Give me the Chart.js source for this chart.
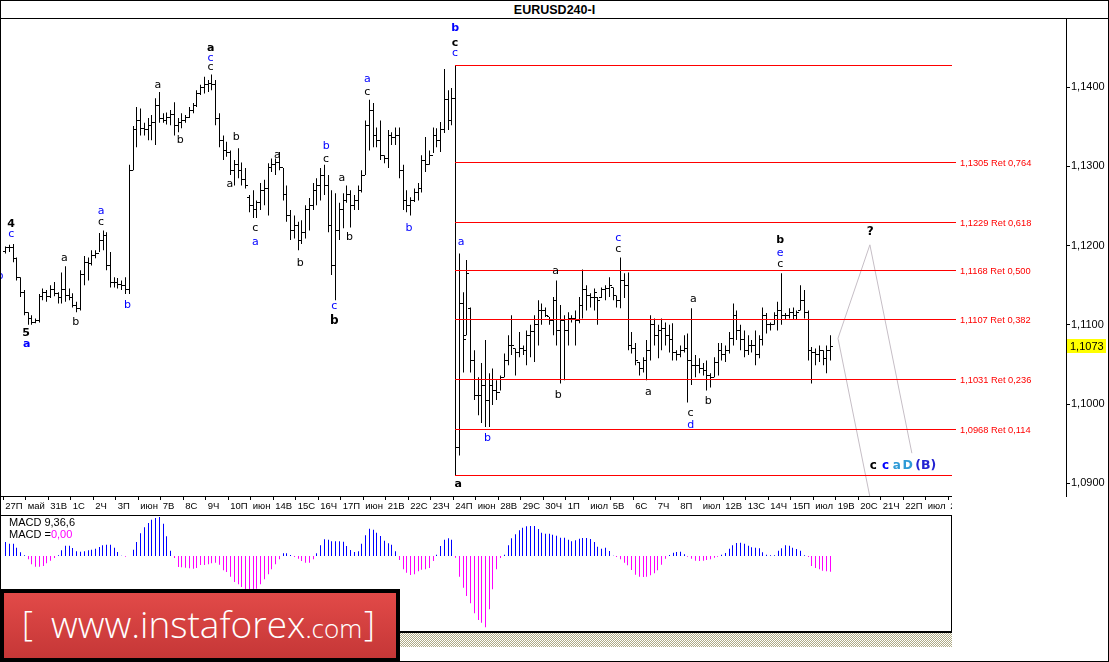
<!DOCTYPE html>
<html><head><meta charset="utf-8">
<script src="https://cdn.jsdelivr.net/npm/chart.js"></script>
<style>
*{box-sizing:border-box}
html,body{margin:0;padding:0;background:#fff;overflow:hidden}
#wrap{position:relative;width:1109px;height:662px;background:#fff;overflow:hidden}
canvas{position:absolute;display:block}
.ln{position:absolute;background:#000;z-index:5}
#frame{position:absolute;left:0;top:0;width:1109px;height:662px;border:1px solid #000;z-index:20;pointer-events:none}
#title{position:absolute;left:0;top:3px;width:1109px;text-align:center;font:bold 12.5px "Liberation Sans",Arial,sans-serif;line-height:14px;color:#000;z-index:6}
#cover{position:absolute;left:952px;top:497px;width:113px;height:18px;background:#fff;z-index:4}
#macdTxt{position:absolute;left:9px;top:516px;font:11px "Liberation Sans",Arial,sans-serif;line-height:12px;color:#000;white-space:pre;z-index:6}
#macdTxt span{color:#FF00FF}
#hatch{position:absolute;left:1px;top:633px;width:951px;height:14px;background:repeating-conic-gradient(#b0ab86 0 25%,#ffffff 0 50%) 0 0/2px 2px;z-index:5}
#logo{position:absolute;left:0;top:589px;width:400px;height:73px;background:#000;z-index:10;overflow:hidden}
#logoIn{position:absolute;left:4px;top:4px;width:392px;height:65px;background:linear-gradient(#e24a48,#c53737)}
.lt{position:absolute;color:#fff;font-family:"Open Sans","DejaVu Sans",sans-serif;font-weight:300;white-space:nowrap}
</style></head>
<body><div id="wrap">
<div id="title">EURUSD240-I</div>
<div class="ln" style="left:0;top:18px;width:1109px;height:1px"></div>
<canvas id="mainCv" width="1109" height="496" style="left:0;top:19px;width:1109px;height:496px"></canvas>
<div id="cover"></div>
<div class="ln" style="left:0;top:496px;width:952px;height:1px"></div>
<div class="ln" style="left:0;top:515px;width:952px;height:1px"></div>
<canvas id="macdCv" width="952" height="116" style="left:0;top:516px;width:952px;height:116px"></canvas>
<div class="ln" style="left:951px;top:515px;width:1px;height:118px"></div>
<div class="ln" style="left:0;top:631px;width:952px;height:2px"></div>
<div id="hatch"></div>
<div id="macdTxt">MACD 9,36,6
MACD =<span>0,00</span></div>
<div id="logo"><div id="logoIn"></div>
  <div class="lt" style="left:22px;top:17px;font-size:34px;line-height:34px">[</div>
  <div class="lt" style="left:51px;top:16px;font-size:37px;line-height:37px">www.instaforex<span style="font-size:26px">.com</span></div>
  <div class="lt" style="left:364px;top:17px;font-size:34px;line-height:34px">]</div>
</div>
<div id="frame"></div>
</div>
<script>
// ---------- DATA ----------
const tickLabels = ['27П','май','31В','1С','2Ч','3П','июн','7В','8С','9Ч','10П','июн','14В','15С','16Ч','17П','июн','21В','22С','23Ч','24П','июн','28В','29С','30Ч','1П','июл','5В','6С','7Ч','8П','июл','12В','13С','14Ч','15П','июл','19В','20С','21Ч','22П','июл','26В'];
const priceTicks = [1.09,1.10,1.11,1.12,1.13,1.14];

const high = [1.1199,1.1201,1.1202,1.1185,1.1160,1.1144,1.1116,1.1112,1.1108,1.1139,
1.1146,1.1144,1.1150,1.1154,1.1141,1.1166,1.1174,1.1146,1.1140,1.1129,
1.1169,1.1187,1.1185,1.1194,1.1194,1.1216,1.1219,1.1217,1.1192,1.1160,
1.1159,1.1156,1.1160,1.1302,1.1351,1.1375,1.1373,1.1355,1.1361,1.1365,
1.1386,1.1394,1.1367,1.1368,1.1371,1.1381,1.1361,1.1367,1.1365,1.1375,
1.1380,1.1396,1.1403,1.1413,1.1409,1.1416,1.1409,1.1367,1.1339,1.1331,
1.1320,1.1308,1.1323,1.1305,1.1298,1.1264,1.1270,1.1257,1.1279,1.1283,
1.1304,1.1310,1.1310,1.1318,1.1298,1.1276,1.1245,1.1238,1.1230,1.1232,
1.1251,1.1260,1.1279,1.1285,1.1298,1.1302,1.1289,1.1270,1.1266,1.1254,
1.1266,1.1276,1.1270,1.1264,1.1276,1.1295,1.1358,1.1384,1.1380,1.1349,
1.1358,1.1314,1.1346,1.1343,1.1349,1.1349,1.1302,1.1270,1.1261,1.1272,
1.1279,1.1314,1.1337,1.1320,1.1349,1.1348,1.1356,1.1423,1.1396,1.1399,
1.1427,1.1190,1.1141,1.1182,1.1122,1.1068,1.1034,1.1052,1.1081,1.1039,
1.1045,1.1030,1.1036,1.1064,1.1087,1.1112,1.1070,1.1091,1.1074,1.1093,
1.1100,1.1112,1.1131,1.1127,1.1122,1.1110,1.1135,1.1156,1.1125,1.1112,
1.1116,1.1112,1.1118,1.1135,1.1170,1.1150,1.1140,1.1146,1.1135,1.1147,
1.1150,1.1160,1.1147,1.1137,1.1185,1.1165,1.1166,1.1091,1.1077,1.1053,
1.1059,1.1081,1.1112,1.1108,1.1100,1.1108,1.1103,1.1100,1.1102,1.1068,
1.1074,1.1087,1.1089,1.1121,1.1062,1.1058,1.1052,1.1055,1.1039,1.1059,
1.1077,1.1077,1.1074,1.1091,1.1127,1.1118,1.1100,1.1093,1.1087,1.1081,
1.1093,1.1087,1.1122,1.1115,1.1103,1.1116,1.1129,1.1165,1.1115,1.1121,
1.1122,1.1118,1.1150,1.1144,1.1118,1.1072,1.1070,1.1074,1.1068,1.1074,
1.1087];

const low = [1.1190,1.1192,1.1179,1.1156,1.1135,1.1112,1.1100,1.1100,1.1102,1.1103,
1.1131,1.1129,1.1134,1.1136,1.1127,1.1127,1.1129,1.1131,1.1122,1.1116,
1.1118,1.1150,1.1156,1.1175,1.1184,1.1192,1.1194,1.1169,1.1147,1.1147,
1.1146,1.1144,1.1139,1.1139,1.1295,1.1324,1.1339,1.1339,1.1333,1.1333,
1.1327,1.1355,1.1355,1.1353,1.1352,1.1339,1.1343,1.1348,1.1355,1.1361,
1.1367,1.1375,1.1390,1.1392,1.1394,1.1396,1.1352,1.1324,1.1308,1.1312,
1.1289,1.1276,1.1285,1.1276,1.1272,1.1242,1.1235,1.1235,1.1245,1.1251,
1.1238,1.1293,1.1289,1.1295,1.1257,1.1230,1.1207,1.1209,1.1194,1.1202,
1.1209,1.1219,1.1245,1.1251,1.1257,1.1264,1.1217,1.1163,1.1131,1.1207,
1.1222,1.1254,1.1223,1.1245,1.1245,1.1267,1.1289,1.1320,1.1324,1.1324,
1.1308,1.1304,1.1298,1.1327,1.1327,1.1285,1.1245,1.1242,1.1238,1.1255,
1.1257,1.1267,1.1293,1.1302,1.1317,1.1324,1.1318,1.1342,1.1346,1.1352,
1.0910,1.0935,1.1040,1.1087,1.1040,1.1005,1.0986,1.0976,1.0971,1.0971,
1.0999,1.1005,1.1017,1.1034,1.1049,1.1062,1.1036,1.1059,1.1062,1.1049,
1.1059,1.1053,1.1074,1.1100,1.1110,1.1100,1.1087,1.1074,1.1026,1.1030,
1.1074,1.1103,1.1074,1.1102,1.1108,1.1118,1.1122,1.1118,1.1100,1.1134,
1.1131,1.1135,1.1131,1.1122,1.1121,1.1134,1.1068,1.1064,1.1049,1.1036,
1.1040,1.1030,1.1055,1.1074,1.1058,1.1068,1.1074,1.1065,1.1055,1.1055,
1.1059,1.1065,1.1002,1.1024,1.1034,1.1039,1.1036,1.1017,1.1021,1.1034,
1.1036,1.1055,1.1053,1.1064,1.1074,1.1081,1.1068,1.1059,1.1062,1.1065,
1.1049,1.1058,1.1074,1.1089,1.1093,1.1100,1.1093,1.1100,1.1106,1.1108,
1.1106,1.1106,1.1118,1.1108,1.1055,1.1026,1.1049,1.1053,1.1049,1.1039,
1.1055];

const open = [1.1193,1.1197,1.1198,1.1184,1.1160,1.1141,1.1116,1.1108,1.1103,1.1106,
1.1136,1.1141,1.1136,1.1144,1.1139,1.1135,1.1144,1.1137,1.1135,1.1125,
1.1121,1.1163,1.1179,1.1178,1.1188,1.1190,1.1207,1.1213,1.1175,1.1153,
1.1154,1.1151,1.1150,1.1144,1.1295,1.1346,1.1358,1.1348,1.1346,1.1352,
1.1356,1.1377,1.1361,1.1358,1.1362,1.1365,1.1352,1.1356,1.1358,1.1362,
1.1371,1.1377,1.1392,1.1399,1.1403,1.1404,1.1403,1.1361,1.1333,1.1320,
1.1318,1.1295,1.1302,1.1295,1.1283,1.1261,1.1251,1.1245,1.1254,1.1270,
1.1272,1.1298,1.1302,1.1305,1.1298,1.1264,1.1238,1.1219,1.1226,1.1207,
1.1217,1.1245,1.1251,1.1270,1.1276,1.1289,1.1276,1.1226,1.1175,1.1219,
1.1245,1.1257,1.1264,1.1251,1.1257,1.1270,1.1289,1.1352,1.1371,1.1339,
1.1333,1.1314,1.1310,1.1339,1.1336,1.1339,1.1295,1.1257,1.1251,1.1257,
1.1267,1.1272,1.1308,1.1302,1.1314,1.1339,1.1333,1.1346,1.1384,1.1358,
1.1386,1.0945,1.1127,1.1087,1.1121,1.1055,1.1011,1.1011,1.1024,1.1005,
1.1024,1.1017,1.1015,1.1034,1.1055,1.1074,1.1070,1.1065,1.1070,1.1068,
1.1087,1.1091,1.1100,1.1118,1.1118,1.1110,1.1106,1.1131,1.1093,1.1106,
1.1093,1.1108,1.1108,1.1106,1.1125,1.1144,1.1137,1.1134,1.1135,1.1134,
1.1144,1.1146,1.1147,1.1137,1.1131,1.1156,1.1150,1.1074,1.1070,1.1053,
1.1045,1.1055,1.1068,1.1100,1.1087,1.1093,1.1096,1.1087,1.1081,1.1065,
1.1062,1.1068,1.1070,1.1055,1.1049,1.1049,1.1045,1.1043,1.1036,1.1034,
1.1053,1.1068,1.1062,1.1068,1.1083,1.1112,1.1093,1.1081,1.1068,1.1074,
1.1074,1.1062,1.1081,1.1112,1.1100,1.1100,1.1112,1.1118,1.1112,1.1112,
1.1116,1.1112,1.1118,1.1131,1.1116,1.1068,1.1065,1.1062,1.1068,1.1058,
1.1068];

const close = [1.1197,1.1198,1.1184,1.1160,1.1141,1.1116,1.1108,1.1103,1.1106,1.1136,
1.1141,1.1136,1.1144,1.1139,1.1135,1.1144,1.1137,1.1135,1.1125,1.1121,
1.1163,1.1179,1.1178,1.1188,1.1190,1.1207,1.1213,1.1175,1.1153,1.1154,
1.1151,1.1150,1.1144,1.1295,1.1346,1.1358,1.1348,1.1346,1.1352,1.1356,
1.1377,1.1361,1.1358,1.1362,1.1365,1.1352,1.1356,1.1358,1.1362,1.1371,
1.1377,1.1392,1.1399,1.1403,1.1404,1.1403,1.1361,1.1333,1.1320,1.1318,
1.1295,1.1302,1.1295,1.1283,1.1276,1.1251,1.1245,1.1254,1.1270,1.1272,
1.1298,1.1302,1.1305,1.1298,1.1264,1.1238,1.1219,1.1226,1.1207,1.1217,
1.1245,1.1251,1.1270,1.1276,1.1289,1.1276,1.1226,1.1175,1.1219,1.1245,
1.1257,1.1264,1.1251,1.1257,1.1270,1.1289,1.1352,1.1371,1.1339,1.1333,
1.1314,1.1310,1.1339,1.1336,1.1339,1.1295,1.1257,1.1251,1.1257,1.1267,
1.1272,1.1308,1.1302,1.1314,1.1339,1.1333,1.1346,1.1384,1.1358,1.1386,
1.0945,1.1127,1.1081,1.1165,1.1055,1.1011,1.1011,1.1024,1.1005,1.1024,
1.1017,1.1015,1.1033,1.1055,1.1074,1.1074,1.1065,1.1070,1.1068,1.1087,
1.1091,1.1100,1.1118,1.1118,1.1112,1.1106,1.1131,1.1093,1.1106,1.1093,
1.1108,1.1108,1.1106,1.1125,1.1144,1.1137,1.1134,1.1141,1.1131,1.1144,
1.1146,1.1150,1.1137,1.1131,1.1156,1.1150,1.1074,1.1070,1.1055,1.1045,
1.1055,1.1068,1.1100,1.1087,1.1093,1.1096,1.1087,1.1081,1.1065,1.1062,
1.1068,1.1070,1.1055,1.1049,1.1049,1.1045,1.1043,1.1036,1.1033,1.1053,
1.1068,1.1062,1.1068,1.1083,1.1112,1.1093,1.1081,1.1068,1.1074,1.1074,
1.1062,1.1081,1.1112,1.1100,1.1100,1.1112,1.1118,1.1112,1.1112,1.1116,
1.1112,1.1116,1.1131,1.1116,1.1068,1.1065,1.1062,1.1068,1.1058,1.1068,
1.1073];

// MACD(9,36,6) histogram, one value per bar (arbitrary units)
const macdHist = [42,37,37,25,11,2,-10,-25,-32,-32,
-30,-22,-14,-6,2,17,31,31,24,14,
13,14,17,19,22,27,32,34,34,25,
12,1,-2,0,19,42,68,86,99,109,
114,117,97,59,16,-6,-33,-34,-35,-37,
-38,-36,-27,-27,-25,-22,-20,-26,-43,-48,
-62,-78,-85,-93,-100,-105,-105,-98,-85,-70,
-55,-40,-25,-10,8,8,3,-3,-8,-15,
-20,-20,-10,8,32,50,49,44,44,44,
43,30,18,12,14,37,62,82,79,70,
60,46,38,34,14,-12,-40,-50,-57,-55,
-46,-41,-40,-36,-15,4,30,49,53,49,
-5,-62,-95,-120,-142,-172,-192,-200,-214,-160,
-100,-40,-6,4,32,53,65,77,85,89,
90,90,81,70,67,67,64,61,55,55,
49,44,47,52,54,54,51,42,28,22,
25,15,1,-3,-10,-20,-28,-42,-56,-62,
-63,-62,-58,-52,-43,-26,-8,3,10,12,
13,5,-2,-8,-14,-15,-14,-12,-10,-5,
-2,4,9,22,32,39,40,37,31,26,
25,23,11,4,2,2,16,23,32,31,
25,21,16,2,-3,-30,-36,-40,-44,-46,
-47];

// Fibonacci retracement of the 24 June drop
const fibLevels = [1.1427,1.1305,1.1229,1.1168,1.1107,1.1031,1.0968,1.0910];
const fibRatios = [1,0.764,0.618,0.5,0.382,0.236,0.114,0];
const fibFrom = 119.9, fibTo = 252.3, fibToLabeled = 253.5;

// projected path (bar index, price)
const projUpBar = [222.0,230.5,241.7], projUpPrice = [1.1083,1.1201,1.0938];
const projDnBar = [222.0,230.5], projDnPrice = [1.1083,1.0883];

// wave labels: text, bar index, price, colour, style
const waves = [
 ['4',1.47,1.1227,'k','b'],['c',1.55,1.1214,'b','n'],['b',-1.47,1.1162,'b','n'],
 ['5',5.47,1.1089,'k','b'],['a',5.65,1.1076,'b','b'],
 ['a',15.7,1.1184,'k','n'],['b',18.7,1.1103,'k','n'],
 ['a',25.5,1.1243,'b','n'],['c',25.5,1.1230,'k','n'],['b',32.5,1.1125,'b','n'],
 ['a',40.6,1.1402,'k','n'],['b',46.6,1.1333,'k','n'],
 ['a',54.7,1.1449,'k','b'],['c',54.7,1.1436,'b','n'],['c',54.7,1.1425,'k','n'],
 ['b',61.5,1.1337,'k','n'],['a',59.8,1.1278,'k','n'],
 ['c',66.6,1.1222,'k','n'],['a',66.6,1.1205,'b','n'],
 ['a',72.5,1.1314,'k','n'],['b',78.6,1.1178,'k','n'],
 ['b',85.5,1.1326,'b','n'],['c',85.5,1.1309,'k','n'],
 ['c',87.7,1.1123,'b','n'],['b',87.7,1.1105,'k','B'],
 ['a',89.7,1.1285,'k','n'],['b',91.7,1.1211,'k','n'],
 ['a',96.5,1.1410,'b','n'],['c',96.5,1.1394,'k','n'],['b',107.6,1.1222,'b','n'],
 ['b',119.9,1.1474,'b','b'],['c',119.9,1.1456,'k','b'],['c',119.9,1.1443,'b','n'],
 ['a',121.5,1.1204,'b','n'],['a',120.7,1.0899,'k','b'],['b',128.5,1.0957,'b','n'],
 ['a',146.7,1.1168,'k','n'],['b',147.4,1.1011,'k','n'],
 ['c',163.4,1.1210,'b','n'],['c',163.4,1.1195,'k','n'],
 ['a',171.4,1.1015,'k','n'],['a',183.4,1.1133,'k','n'],
 ['c',182.7,1.0989,'k','n'],['d',182.7,1.0974,'b','n'],['b',187.4,1.1004,'k','n'],
 ['b',206.6,1.1207,'k','b'],['e',206.6,1.1191,'b','n'],['c',206.6,1.1177,'k','n'],
 ['?',230.6,1.1217,'k','B'],
 ['c',231.4,1.0922,'k','B'],['c',234.7,1.0922,'b','B'],['a',237.7,1.0922,'t','B'],
 ['D',240.6,1.0922,'t','L'],['(B)',245.4,1.0922,'p','L']
];

// ---------- layout constants ----------
const XMIN = -1.2, PITCH = 3.75;
const YMIN = 1.0884, YMAX = 1.1486;
const colorMap = {k:'#000000', b:'#0000FF', t:'#2E9AD6', p:'#2323D2'};
const fontMap = {n:'11px "DejaVu Sans"', b:'bold 11px "DejaVu Sans"', B:'bold 12px "DejaVu Sans"', L:'bold 12.5px "DejaVu Sans"'};
const fmtP = v => v.toFixed(4).replace('.', ',');

const snapBars = {
  id:'snapBars',
  afterDatasetUpdate(chart, args){
    if (args.meta.type !== 'bar') return;
    args.meta.data.forEach(el => { el.x = Math.round(el.x - 0.5) + 0.5; el.width = 1; });
  }
};

const ohlcTicks = {
  id:'ohlcTicks',
  afterDatasetsDraw(chart){
    const {ctx, scales:{y}} = chart;
    const meta = chart.getDatasetMeta(0);
    ctx.save(); ctx.fillStyle = '#000';
    meta.data.forEach((el, i) => {
      const px = Math.round(el.x - 0.5);
      const yo = Math.round(y.getPixelForValue(open[i]) - 0.5);
      const yc = Math.round(y.getPixelForValue(close[i]) - 0.5);
      ctx.fillRect(px - 2, yo, 2, 1);
      ctx.fillRect(px + 1, yc, 2, 1);
    });
    ctx.restore();
  }
};

const fibPlugin = {
  id:'fib',
  afterDatasetsDraw(chart){
    const {ctx, scales:{x, y}} = chart;
    ctx.save();
    ctx.strokeStyle = '#FF0000'; ctx.fillStyle = '#FF0000'; ctx.lineWidth = 1;
    ctx.font = '9.3px "Liberation Sans"'; ctx.textBaseline = 'middle'; ctx.textAlign = 'left';
    fibLevels.forEach((lv, k) => {
      const r = fibRatios[k];
      const labeled = r > 0 && r < 1;
      const py = Math.round(y.getPixelForValue(lv) - 0.5) + 0.5;
      const x0 = Math.round(x.getPixelForValue(fibFrom));
      const x1 = Math.round(x.getPixelForValue(labeled ? fibToLabeled : fibTo));
      ctx.beginPath(); ctx.moveTo(x0, py); ctx.lineTo(x1, py); ctx.stroke();
      if (labeled) ctx.fillText(fmtP(lv) + ' Ret ' + r.toFixed(3).replace('.', ','), x1 + 4, py + 0.5);
    });
    ctx.restore();
  }
};

const labelPlugin = {
  id:'labels',
  afterDraw(chart){
    const {ctx, scales:{x, y}, chartArea} = chart;
    ctx.save();
    ctx.textAlign = 'center'; ctx.textBaseline = 'middle';
    waves.forEach(([t, b, p, c, s]) => {
      ctx.font = fontMap[s]; ctx.fillStyle = colorMap[c];
      ctx.fillText(t, x.getPixelForValue(b), y.getPixelForValue(p));
    });
    const last = close[close.length - 1];
    const py = Math.round(y.getPixelForValue(last));
    ctx.fillStyle = '#FFFF00';
    ctx.fillRect(chartArea.right + 1, py - 7, 39, 14);
    ctx.fillStyle = '#000'; ctx.textAlign = 'left';
    ctx.font = '11px "Liberation Sans"';
    ctx.fillText(fmtP(last), chartArea.right + 4, py + 0.5);
    ctx.restore();
  }
};

const zeroPad = s => { s.paddingLeft = 0; s.paddingRight = 0; s.paddingTop = 0; s.paddingBottom = 0; };

new Chart(document.getElementById('mainCv'), {
  type:'bar',
  data:{ datasets:[
    { type:'bar', label:'EURUSD H4', data: high.map((h, i) => ({x:i, y:[low[i], h]})),
      backgroundColor:'#000', borderWidth:0, barThickness:1, inflateAmount:0, order:2 },
    { type:'line', label:'path 1', data: projUpBar.map((b, i) => ({x:b, y:projUpPrice[i]})),
      borderColor:'#c6bec6', borderWidth:1, pointRadius:0, tension:0, order:1 },
    { type:'line', label:'path 2', data: projDnBar.map((b, i) => ({x:b, y:projDnPrice[i]})),
      borderColor:'#c6bec6', borderWidth:1, pointRadius:0, tension:0, order:1 }
  ]},
  options:{
    responsive:false, animation:false, devicePixelRatio:1,
    layout:{ padding:{left:1, right:0, top:0, bottom:0}, autoPadding:false },
    plugins:{ legend:{display:false}, tooltip:{enabled:false} },
    scales:{
      x:{ type:'linear', position:'bottom', min:XMIN, max:XMIN + 1065 / PITCH, offset:false,
          grid:{ display:true, offset:false, drawOnChartArea:false, drawTicks:true, tickLength:4, color:'#000', lineWidth:1 },
          border:{ display:false },
          ticks:{ autoSkip:false, maxRotation:0, minRotation:0, align:'start', labelOffset:2, padding:1,
                  color:'#000', font:{ family:'Liberation Sans', size:9.5 },
                  callback:(v, idx) => tickLabels[idx] },
          afterBuildTicks: s => { s.ticks = tickLabels.map((t, k) => ({ value: k * 6 - 0.6 })); },
          afterFit: s => { s.height = 19; zeroPad(s); } },
      y:{ type:'linear', position:'right', min:YMIN, max:YMAX,
          grid:{ drawOnChartArea:false, drawTicks:true, tickLength:4, color:'#000', lineWidth:1 },
          border:{ display:true, color:'#000', width:1 },
          ticks:{ color:'#000', padding:1, font:{ family:'Liberation Sans', size:11 }, callback: v => fmtP(v) },
          afterBuildTicks: s => { s.ticks = priceTicks.map(v => ({ value: v })); },
          afterFit: s => { s.width = 43; zeroPad(s); } }
    }
  },
  plugins:[snapBars, ohlcTicks, fibPlugin, labelPlugin]
});

new Chart(document.getElementById('macdCv'), {
  type:'bar',
  data:{ datasets:[{ label:'MACD', data: macdHist.map((v, i) => ({x:i, y:v})),
    backgroundColor: macdHist.map(v => v >= 0 ? '#0000FF' : '#FF00FF'), borderWidth:0, barThickness:1, inflateAmount:0 }]},
  options:{
    responsive:false, animation:false, devicePixelRatio:1,
    layout:{ padding:{left:1, right:1, top:0, bottom:0}, autoPadding:false },
    plugins:{ legend:{display:false}, tooltip:{enabled:false} },
    scales:{
      x:{ type:'linear', display:false, min:XMIN, max:XMIN + 950 / PITCH, offset:false, grid:{offset:false} },
      y:{ display:false, min:-228, max:120 }
    }
  },
  plugins:[snapBars]
});
</script>
</body></html>
